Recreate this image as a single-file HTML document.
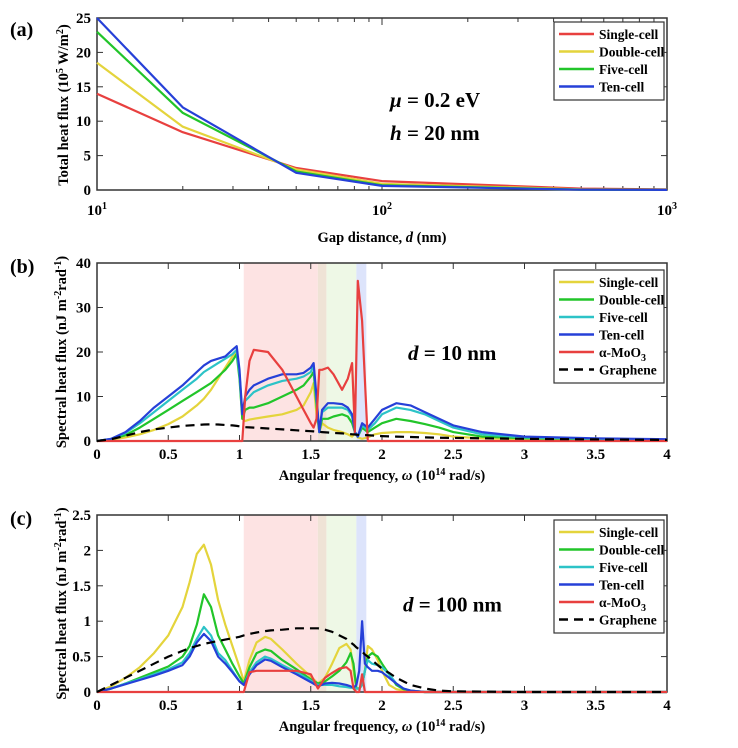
<!DOCTYPE html>
<html><head><meta charset="utf-8"><style>
body{margin:0;background:#fff}
svg{display:block;font-family:"Liberation Serif",serif;font-weight:bold}
</style></head><body>
<svg id="s" width="738" height="748" viewBox="0 0 738 748"></svg>
<script>
// ---------- Panel (a) data ----------
const gaps=[10,20,50,100,500,1000];
const aSingle=[14,8.4,3.2,1.3,0.2,0.1];
const aDouble=[18.5,9.2,3.0,0.9,0.1,0.05];
const aFive=[23,11.2,2.7,0.7,0.06,0.03];
const aTen=[25,12,2.5,0.6,0.05,0.02];
const aTicksY=[0,5,10,15,20,25];
// ---------- Panel (b) data (omega, flux) ----------
const bX=[0,0.1,0.2,0.3,0.4,0.5,0.6,0.7,0.75,0.8,0.85,0.9,0.95,0.98,1.0,1.02,1.04,1.07,1.1,1.2,1.3,1.4,1.45,1.5,1.52,1.54,1.56,1.58,1.62,1.66,1.72,1.76,1.79,1.81,1.83,1.86,1.9,1.95,2.0,2.1,2.2,2.3,2.4,2.5,2.7,3.0,3.5,4.0];
const bSingle=[0,0.3,0.8,1.5,2.5,3.8,5.5,8,9.5,11.5,14,16.5,19,20,15,5,4.5,4.8,5,5.5,6,7,8,11,13,6,2,4,3,2.5,2,1.5,1,1.8,0.8,0.5,0.8,1.5,1.8,2,2,1.8,1.5,1,0.6,0.4,0.3,0.2];
const bDouble=[0,0.4,1.3,3,5,7,9,11,12,13,14.5,16,18,19.5,14,5,7,7.5,7.5,8.5,10,11.5,12.5,14.5,15.5,8,2,5,5,5.5,6,5.5,4,2,1,3,2,3,4,5,4.5,3.8,3,2,1,0.6,0.4,0.3];
const bFive=[0,0.5,1.8,4,6.5,9,11.5,14,15.5,16.5,17.5,18.5,19.5,20.5,15,6,9,10,11,12.5,13.5,14,14.5,15.5,17,9,2,6.5,7.5,7.5,7.5,7,5.5,2,1,3.5,2.5,4,6,7.5,7,6,4.5,3,1.5,0.8,0.5,0.3];
const bTen=[0,0.5,2,4.5,7.5,10,12.5,15.5,17,18,18.5,19,20.5,21.3,16,6,10,11.5,12.5,14,15,15,15.3,16.5,17.5,10,2,7,8.5,8.5,8.3,7.5,6,2,1,4,3,5,7,8.5,8,6.5,5,3.5,2,1,0.6,0.4];
const bMoO3=[0,0,0,0,0,0,0,0,0,0,0,0,0,0,0,0,10,18,20.5,20,16,10,7,4,3,5,16,16,16.5,15,11.5,14,17.5,2,36,27,0,0,0,0,0,0,0,0,0,0,0,0];
const bGraphene=[0,0.4,1.2,2,2.6,3,3.4,3.6,3.7,3.75,3.7,3.6,3.5,3.4,3.3,3.2,3.1,3.05,3,2.8,2.6,2.4,2.3,2.2,2.15,2.1,2.05,2,1.9,1.8,1.7,1.6,1.5,1.45,1.4,1.35,1.3,1.2,1.1,1,0.9,0.8,0.75,0.7,0.6,0.5,0.35,0.25];
const bTicksY=[0,10,20,30,40];
// ---------- Panel (c) data ----------
const cX=[0,0.1,0.2,0.3,0.4,0.5,0.6,0.65,0.7,0.75,0.8,0.85,0.9,0.95,1.0,1.03,1.07,1.12,1.18,1.22,1.3,1.4,1.5,1.55,1.6,1.65,1.7,1.75,1.78,1.8,1.82,1.84,1.86,1.88,1.9,1.93,1.97,2.0,2.05,2.1,2.15,2.2,2.3,2.4,2.5,3.0,4.0];
const cSingle=[0,0.08,0.2,0.35,0.55,0.8,1.2,1.55,1.95,2.08,1.8,1.3,0.95,0.65,0.35,0.15,0.45,0.7,0.78,0.75,0.6,0.4,0.22,0.12,0.2,0.4,0.62,0.68,0.6,0.3,0.05,0.05,0.1,0.3,0.65,0.6,0.45,0.3,0.1,0.04,0.02,0.01,0,0,0,0,0];
const cDouble=[0,0.05,0.12,0.2,0.28,0.36,0.5,0.65,0.95,1.38,1.2,0.8,0.6,0.4,0.22,0.12,0.35,0.55,0.6,0.58,0.45,0.32,0.18,0.12,0.15,0.22,0.3,0.42,0.55,0.4,0.05,0.05,0.1,0.3,0.5,0.55,0.5,0.4,0.25,0.1,0.04,0.02,0,0,0,0,0];
const cFive=[0,0.05,0.12,0.18,0.25,0.32,0.42,0.55,0.75,0.92,0.8,0.55,0.45,0.3,0.15,0.1,0.28,0.42,0.5,0.47,0.38,0.28,0.16,0.1,0.1,0.1,0.08,0.07,0.06,0.06,0.05,0.05,0.1,0.3,0.45,0.4,0.38,0.35,0.25,0.12,0.05,0.02,0,0,0,0,0];
const cTen=[0,0.05,0.11,0.17,0.23,0.3,0.38,0.5,0.7,0.82,0.72,0.5,0.4,0.28,0.15,0.1,0.25,0.38,0.46,0.44,0.35,0.25,0.14,0.08,0.12,0.13,0.12,0.1,0.08,0.06,0.1,0.3,1.0,0.4,0.35,0.3,0.3,0.28,0.2,0.12,0.05,0.02,0,0,0,0,0];
const cMoO3=[0,0,0,0,0,0,0,0,0,0,0,0,0,0,0,0,0.28,0.3,0.3,0.3,0.3,0.3,0.25,0.05,0.2,0.27,0.33,0.35,0.3,0.05,0,0,0.25,0,0,0,0,0,0,0,0,0,0,0,0,0,0];
const cGraphene=[0,0.1,0.2,0.3,0.4,0.5,0.58,0.62,0.65,0.68,0.7,0.72,0.74,0.76,0.78,0.8,0.82,0.84,0.86,0.87,0.88,0.9,0.9,0.9,0.88,0.85,0.8,0.75,0.7,0.67,0.63,0.6,0.57,0.53,0.5,0.45,0.38,0.33,0.27,0.2,0.15,0.1,0.05,0.02,0.01,0,0];
const cTicksY=[0,0.5,1,1.5,2,2.5];
const wTicks=[0,0.5,1,1.5,2,2.5,3,3.5,4];
const bands=[[1.03,1.55,'#fde3e3'],[1.55,1.61,'#efe3d6'],[1.61,1.82,'#eef8e6'],[1.82,1.89,'#dde4fb']];
const C={red:'#e8403f',yel:'#e4d43c',grn:'#22c52a',cyan:'#2cc3c7',blue:'#2640d8',blk:'#000'};

const NS='http://www.w3.org/2000/svg',S=document.getElementById('s');
function el(t,a,p){const e=document.createElementNS(NS,t);for(const k in a)e.setAttribute(k,a[k]);(p||S).appendChild(e);return e;}
function txt(x,y,s,size,anchor,name,extra){const e=el('text',Object.assign({x:x,y:y,'font-size':size,'text-anchor':anchor||'middle'},extra||{}));e.innerHTML=s;


return e;}
const L=97,R=667;
function axes(top,bot,name){const r=el('rect',{x:L,y:top,width:R-L,height:bot-top,fill:'none',stroke:'#333','stroke-width':1.5});

}
function line(xs,ys,fx,fy,col,name,dash){const p=xs.map((x,i)=>fx(x).toFixed(1)+','+fy(ys[i]).toFixed(1)).join(' ');
const e=el('polyline',{points:p,fill:'none',stroke:col,'stroke-width':2.2,'stroke-linejoin':'round'});if(dash)e.setAttribute('stroke-dasharray',dash);

}
function legend(x,y,w,items){const h=items.length*17.5+8;const r=el('rect',{x:x,y:y,width:w,height:h,fill:'#fff',stroke:'#333','stroke-width':1.2});


items.forEach((it,i)=>{const yy=y+12+i*17.5;const l=el('line',{x1:x+5,x2:x+40,y1:yy,y2:yy,stroke:it[1],'stroke-width':2.4});if(it[2])l.setAttribute('stroke-dasharray','9,6');


txt(x+45,yy+5,it[0],13.5,'start','legend-entry');});}

// ---- Panel a ----
const aT=18,aB=190;
const ax=d=>L+(Math.log10(d)-1)*(R-L)/2, ay=v=>aB-v*(aB-aT)/25;
axes(aT,aB,'panel-a-axes');
aTicksY.forEach(v=>{el('line',{x1:L,x2:L+6,y1:ay(v),y2:ay(v),stroke:'#333'});el('line',{x1:R,x2:R-6,y1:ay(v),y2:ay(v),stroke:'#333'});txt(L-6,ay(v)+5,v,15,'end','y-tick-label');});
[[10,'1'],[100,'2'],[1000,'3']].forEach(t=>{txt(ax(t[0]),215,'10<tspan dy="-6" font-size="10">'+t[1]+'</tspan>',15,'middle','x-tick-label');});
[20,30,40,50,60,70,80,90,200,300,400,500,600,700,800,900].forEach(d=>{el('line',{x1:ax(d),x2:ax(d),y1:aB,y2:aB-4,stroke:'#333'});el('line',{x1:ax(d),x2:ax(d),y1:aT,y2:aT+4,stroke:'#333'});});
[100].forEach(d=>{el('line',{x1:ax(d),x2:ax(d),y1:aB,y2:aB-7,stroke:'#333'});el('line',{x1:ax(d),x2:ax(d),y1:aT,y2:aT+7,stroke:'#333'});});
line(gaps,aSingle,ax,ay,C.red,'series-single-cell');
line(gaps,aDouble,ax,ay,C.yel,'series-double-cell');
line(gaps,aFive,ax,ay,C.grn,'series-five-cell');
line(gaps,aTen,ax,ay,C.blue,'series-ten-cell');
legend(554,22,110,[['Single-cell',C.red],['Double-cell',C.yel],['Five-cell',C.grn],['Ten-cell',C.blue]]);
txt(382,242,'Gap distance, <tspan font-style="italic">d</tspan> (nm)',14.5,'middle','x-axis-title');
txt(0,0,'Total heat flux (10<tspan dy="-5" font-size="10">5</tspan><tspan dy="5"> W/m</tspan><tspan dy="-5" font-size="10">2</tspan><tspan dy="5">)</tspan>',14.5,'middle','y-axis-title',{transform:'translate(68,105) rotate(-90)'});
txt(10,36,'(a)',20,'start','panel-a-label');
txt(390,107,'<tspan font-style="italic">μ</tspan> = 0.2 eV',21,'start','mu-annotation');
txt(390,140,'<tspan font-style="italic">h</tspan> = 20 nm',21,'start','h-annotation');

function spectral(top,bot,ymax,ticks,xs,ser,lbl,name,ann,ax_t,lx,ly){
 const fx=w=>L+w*(R-L)/4, fy=v=>bot-v*(bot-top)/ymax;
 bands.forEach(b=>{const r=el('rect',{x:fx(b[0]),y:top,width:fx(b[1])-fx(b[0]),height:bot-top,fill:b[2]});
 
 });
 axes(top,bot,name+'-axes');
 ticks.forEach(v=>{el('line',{x1:L,x2:L+6,y1:fy(v),y2:fy(v),stroke:'#333'});el('line',{x1:R,x2:R-6,y1:fy(v),y2:fy(v),stroke:'#333'});txt(L-6,fy(v)+5,v,15,'end','y-tick-label');});
 wTicks.forEach(v=>{el('line',{x1:fx(v),x2:fx(v),y1:bot,y2:bot-6,stroke:'#333'});el('line',{x1:fx(v),x2:fx(v),y1:top,y2:top+6,stroke:'#333'});txt(fx(v),bot+18,v,15,'middle','x-tick-label');});
 line(xs,ser[0],fx,fy,C.yel,'series-single-cell');
 line(xs,ser[1],fx,fy,C.grn,'series-double-cell');
 line(xs,ser[2],fx,fy,C.cyan,'series-five-cell');
 line(xs,ser[3],fx,fy,C.blue,'series-ten-cell');
 line(xs,ser[4],fx,fy,C.red,'series-moo3');
 line(xs,ser[5],fx,fy,C.blk,'series-graphene','9,6');
 legend(554,ly,110,[['Single-cell',C.yel],['Double-cell',C.grn],['Five-cell',C.cyan],['Ten-cell',C.blue],['α-MoO<tspan dy="4" font-size="10">3</tspan>',C.red],['Graphene',C.blk,1]]);
 txt(382,bot+39,'Angular frequency, <tspan font-style="italic">ω</tspan> (10<tspan dy="-5" font-size="10">14</tspan><tspan dy="5"> rad/s)</tspan>',14.5,'middle','x-axis-title');
 txt(0,0,'Spectral heat flux (nJ m<tspan dy="-5" font-size="10">-2</tspan><tspan dy="5">rad</tspan><tspan dy="-5" font-size="10">-1</tspan><tspan dy="5">)</tspan>',14.5,'middle','y-axis-title',{transform:'translate(66,'+((top+bot)/2)+') rotate(-90)'});
 txt(10,top+10,lbl,20,'start',name+'-label');
 txt(ax_t,(top+bot)/2+8,'<tspan font-style="italic">d</tspan> = '+ann,21,'start','d-annotation');
}
spectral(263,441,40,bTicksY,bX,[bSingle,bDouble,bFive,bTen,bMoO3,bGraphene],'(b)','panel-b','10 nm',408,554,270);
spectral(515,692,2.5,cTicksY,cX,[cSingle,cDouble,cFive,cTen,cMoO3,cGraphene],'(c)','panel-c','100 nm',403,554,520);
</script>
</body></html>
